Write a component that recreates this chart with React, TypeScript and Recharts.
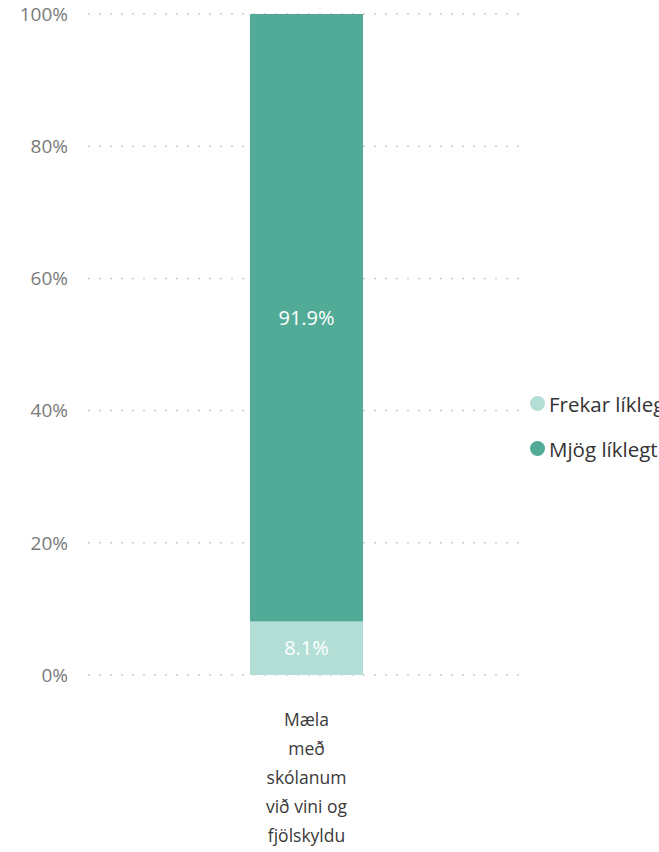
import React from "react"
import {
  BarChart,
  Bar,
  XAxis,
  YAxis,
  CartesianGrid,
  Legend,
  LabelList,
} from "recharts"

const categories = ["Mæla með skólanum við vini og fjölskyldu"]
const categoryLines = [["Mæla", "með", "skólanum", "við vini og", "fjölskyldu"]]
const frekarLiklegt = [8.1]
const mjogLiklegt = [91.9]
const yTicks = [0, 20, 40, 60, 80, 100]

const seriesNames = ["Frekar líklegt", "Mjög líklegt"]
const seriesColors = ["#b3ded6", "#52ab97"]

const data = categories.map((c, i) => ({
  name: c,
  frekar: frekarLiklegt[i],
  mjog: mjogLiklegt[i],
}))

const FONT = "'Segoe UI', 'Open Sans', sans-serif"

function CategoryTick({ x, y, payload }: any) {
  const idx = categories.indexOf(payload.value)
  const lines = idx >= 0 ? categoryLines[idx] : [payload.value]
  return (
    <g transform={`translate(${x},${y})`}>
      {lines.map((l: string, i: number) => (
        <text
          key={i}
          x={0}
          y={36 + i * 29}
          textAnchor="middle"
          dominantBaseline="central"
          fill="#3a3a3a"
          fontSize={17.5}
          fontFamily={FONT}
        >
          {l}
        </text>
      ))}
    </g>
  )
}

function LegendContent() {
  return (
    <div style={{ fontFamily: FONT, fontSize: 20.5, color: "#333", whiteSpace: "nowrap" }}>
      {seriesNames.map((n, i) => (
        <div key={n} style={{ display: "flex", alignItems: "center", height: 45 }}>
          <span
            style={{
              display: "inline-block",
              width: 15,
              height: 15,
              borderRadius: "50%",
              background: seriesColors[i],
              marginRight: 4,
            }}
          />
          {n}
        </div>
      ))}
    </div>
  )
}

export default function App() {
  return (
    <div
      style={{
        position: "absolute",
        left: 0,
        top: 0,
        width: 659,
        height: 852,
        overflow: "hidden",
        background: "#fff",
      }}
    >
      <BarChart
        width={659}
        height={852}
        data={data}
        margin={{ top: 14, right: 134, bottom: 147, left: 0 }}
        barSize={113}
      >
        <CartesianGrid
          vertical={false}
          stroke="#cccccc"
          strokeDasharray="2 9"
          strokeWidth={1.5}
        />
        <XAxis
          dataKey="name"
          height={30}
          axisLine={false}
          tickLine={false}
          tick={<CategoryTick />}
          interval={0}
        />
        <YAxis
          domain={[0, 100]}
          ticks={yTicks}
          width={88}
          axisLine={false}
          tickLine={false}
          tickMargin={14}
          tickFormatter={(v) => `${v}%`}
          tick={{ fill: "#7a7a7a", fontSize: 19, fontFamily: FONT }}
        />
        <Legend
          layout="horizontal"
          verticalAlign="middle"
          align="center"
          content={<LegendContent />}
          wrapperStyle={{ left: 530, top: 381, width: 240 }}
        />
        <Bar dataKey="frekar" stackId="a" fill={seriesColors[0]} isAnimationActive={false}>
          <LabelList
            dataKey="frekar"
            position="center"
            formatter={(v: any) => `${v}%`}
            fill="#ffffff"
            fontSize={20}
            fontFamily={FONT}
          />
        </Bar>
        <Bar dataKey="mjog" stackId="a" fill={seriesColors[1]} isAnimationActive={false}>
          <LabelList
            dataKey="mjog"
            position="center"
            formatter={(v: any) => `${v}%`}
            fill="#ffffff"
            fontSize={20}
            fontFamily={FONT}
          />
        </Bar>
      </BarChart>
    </div>
  )
}
